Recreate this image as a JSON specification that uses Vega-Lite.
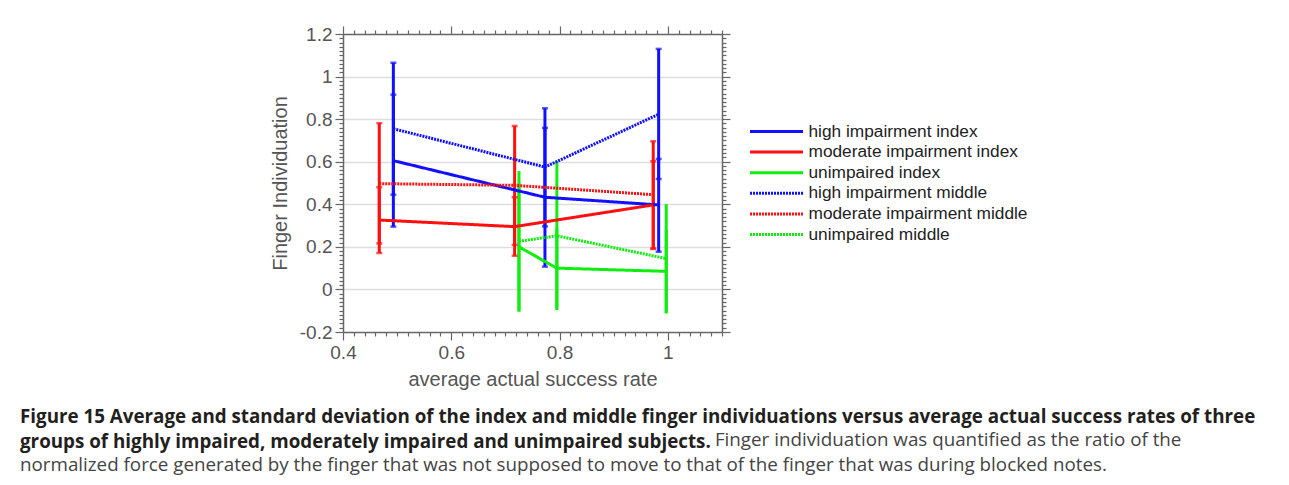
{
  "$schema": "https://vega.github.io/schema/vega-lite/v6.json",
  "autosize": {"type": "none"},
  "width": 379,
  "height": 298,
  "padding": {"left": 343, "top": 34, "right": 567, "bottom": 153},
  "background": "white",
  "config": {
    "view": {"stroke": null},
    "font": "Liberation Sans",
    "axis": {
      "labelFont": "Liberation Sans", "labelFontSize": 19, "labelColor": "#555555",
      "titleFont": "Liberation Sans", "titleFontSize": 20, "titleColor": "#555555", "titleFontWeight": "normal",
      "domainColor": "#666666", "domainWidth": 1.5, "tickColor": "#666666", "tickWidth": 1.2,
      "labelOverlap": false, "labelBound": false, "labelFlush": false
    },
    "legend": {
      "labelFont": "Liberation Sans", "labelFontSize": 17.3, "labelColor": "#222222", "labelLimit": 400
    }
  },
  "title": {
    "text": [
      "Figure 15 Average and standard deviation of the index and middle finger individuations versus average actual success rates of three",
      "groups of highly impaired, moderately impaired and unimpaired subjects."
    ],
    "subtitle": [
      "\u200b\u2003\u2003\u2003\u2003\u2003\u2003\u2003\u2003\u2003\u2003\u2003\u2003\u2003\u2003\u2003\u2003\u2003\u2003\u2003\u2003\u2003\u2003\u2003\u2003\u2003\u2003\u2003\u2003\u2003\u2003\u2003\u2003\u2003\u2003\u2003\u2003\u2003Finger individuation was quantified as the ratio of the",
      "normalized force generated by the finger that was not supposed to move to that of the finger that was during blocked notes."
    ],
    "orient": "bottom",
    "anchor": "start",
    "frame": "group",
    "dx": -323,
    "offset": 19,
    "font": "Open Sans",
    "fontSize": 18.8,
    "fontWeight": "bold",
    "color": "#231f20",
    "lineHeight": 25,
    "subtitleFont": "Open Sans",
    "subtitleFontSize": 18.8,
    "subtitleFontWeight": "normal",
    "subtitleColor": "#444444",
    "subtitleLineHeight": 25,
    "subtitlePadding": -21
  },
  "data": {
    "values": [
      {"series": "high impairment index", "group": "high", "x": 0.493, "mean": 0.605, "lo": 0.295, "hi": 0.915},
      {"series": "high impairment index", "group": "high", "x": 0.773, "mean": 0.433, "lo": 0.107, "hi": 0.759},
      {"series": "high impairment index", "group": "high", "x": 0.983, "mean": 0.397, "lo": 0.177, "hi": 0.613},
      {"series": "moderate impairment index", "group": "moderate", "x": 0.467, "mean": 0.326, "lo": 0.171, "hi": 0.48},
      {"series": "moderate impairment index", "group": "moderate", "x": 0.717, "mean": 0.295, "lo": 0.158, "hi": 0.433},
      {"series": "moderate impairment index", "group": "moderate", "x": 0.973, "mean": 0.397, "lo": 0.19, "hi": 0.602},
      {"series": "unimpaired index", "group": "unimpaired", "x": 0.725, "mean": 0.2, "lo": -0.1, "hi": 0.5},
      {"series": "unimpaired index", "group": "unimpaired", "x": 0.795, "mean": 0.1, "lo": -0.09, "hi": 0.29},
      {"series": "unimpaired index", "group": "unimpaired", "x": 0.997, "mean": 0.085, "lo": -0.11, "hi": 0.28},
      {"series": "high impairment middle", "group": "high", "x": 0.493, "mean": 0.755, "lo": 0.445, "hi": 1.065},
      {"series": "high impairment middle", "group": "high", "x": 0.773, "mean": 0.575, "lo": 0.296, "hi": 0.851},
      {"series": "high impairment middle", "group": "high", "x": 0.983, "mean": 0.823, "lo": 0.519, "hi": 1.13},
      {"series": "moderate impairment middle", "group": "moderate", "x": 0.467, "mean": 0.497, "lo": 0.216, "hi": 0.781},
      {"series": "moderate impairment middle", "group": "moderate", "x": 0.717, "mean": 0.489, "lo": 0.209, "hi": 0.768},
      {"series": "moderate impairment middle", "group": "moderate", "x": 0.973, "mean": 0.445, "lo": 0.193, "hi": 0.696},
      {"series": "unimpaired middle", "group": "unimpaired", "x": 0.725, "mean": 0.226, "lo": -0.105, "hi": 0.556},
      {"series": "unimpaired middle", "group": "unimpaired", "x": 0.795, "mean": 0.252, "lo": -0.097, "hi": 0.602},
      {"series": "unimpaired middle", "group": "unimpaired", "x": 0.997, "mean": 0.145, "lo": -0.113, "hi": 0.401}
    ]
  },
  "resolve": {"axis": {"x": "independent", "y": "independent"}},
  "layer": [
    {
      "mark": {"type": "rule", "strokeWidth": 3},
      "encoding": {
        "x": {
          "field": "x", "type": "quantitative",
          "scale": {"domain": [0.4, 1.1], "nice": false, "zero": false},
          "axis": {
            "orient": "bottom",
            "title": "average actual success rate",
            "titlePadding": 7,
            "values": [0.4,0.42,0.44,0.46,0.48,0.5,0.52,0.54,0.56,0.58,0.6,0.62,0.64,0.66,0.68,0.7,0.72,0.74,0.76,0.78,0.8,0.82,0.84,0.86,0.88,0.9,0.92,0.94,0.96,0.98,1,1.02,1.04,1.06,1.08,1.1],
            "labelExpr": "abs(datum.value*5 - round(datum.value*5)) < 0.001 && datum.value < 1.05 ? format(datum.value, '~g') : ''",
            "tickSize": {"condition": {"test": "abs(datum.value*5 - round(datum.value*5)) < 0.001", "value": 8}, "value": 4},
            "labelPadding": 3,
            "grid": false
          }
        },
        "y": {
          "field": "lo", "type": "quantitative",
          "scale": {"domain": [-0.2, 1.2], "nice": false, "zero": false},
          "axis": {
            "orient": "left",
            "title": "Finger Individuation",
            "titlePadding": 9,
            "values": [-0.2,-0.18,-0.16,-0.14,-0.12,-0.1,-0.08,-0.06,-0.04,-0.02,0,0.02,0.04,0.06,0.08,0.1,0.12,0.14,0.16,0.18,0.2,0.22,0.24,0.26,0.28,0.3,0.32,0.34,0.36,0.38,0.4,0.42,0.44,0.46,0.48,0.5,0.52,0.54,0.56,0.58,0.6,0.62,0.64,0.66,0.68,0.7,0.72,0.74,0.76,0.78,0.8,0.82,0.84,0.86,0.88,0.9,0.92,0.94,0.96,0.98,1,1.02,1.04,1.06,1.08,1.1,1.12,1.14,1.16,1.18,1.2],
            "labelExpr": "abs(datum.value*5 - round(datum.value*5)) < 0.001 ? replace(format(datum.value, '~g'), '\u2212', '-') : ''",
            "tickSize": {"condition": {"test": "abs(datum.value*5 - round(datum.value*5)) < 0.001", "value": 8}, "value": 4},
            "labelPadding": 3,
            "grid": true,
            "gridColor": "#dddddd",
            "gridWidth": 1.5,
            "gridOpacity": {"condition": {"test": "abs(datum.value*5 - round(datum.value*5)) < 0.001 && datum.value > -0.1 && datum.value < 1.1", "value": 1}, "value": 0}
          }
        },
        "y2": {"field": "hi"},
        "stroke": {
          "field": "group", "type": "nominal", "legend": null,
          "scale": {"domain": ["high", "moderate", "unimpaired"], "range": ["#1010ff", "#ff1010", "#10ee10"]}
        }
      }
    },
    {
      "transform": [{"filter": "datum.group != 'unimpaired'"}],
      "mark": {"type": "tick", "orient": "horizontal", "size": 6, "thickness": 2.5},
      "encoding": {
        "x": {
          "field": "x", "type": "quantitative",
          "axis": {
            "orient": "top", "title": null, "labels": false, "grid": false,
            "values": [0.4,0.42,0.44,0.46,0.48,0.5,0.52,0.54,0.56,0.58,0.6,0.62,0.64,0.66,0.68,0.7,0.72,0.74,0.76,0.78,0.8,0.82,0.84,0.86,0.88,0.9,0.92,0.94,0.96,0.98,1,1.02,1.04,1.06,1.08,1.1],
            "tickSize": {"condition": {"test": "abs(datum.value*5 - round(datum.value*5)) < 0.001", "value": 8}, "value": 4}
          }
        },
        "y": {
          "field": "lo", "type": "quantitative",
          "axis": {
            "orient": "right", "title": null, "labels": false, "grid": false,
            "values": [-0.2,-0.18,-0.16,-0.14,-0.12,-0.1,-0.08,-0.06,-0.04,-0.02,0,0.02,0.04,0.06,0.08,0.1,0.12,0.14,0.16,0.18,0.2,0.22,0.24,0.26,0.28,0.3,0.32,0.34,0.36,0.38,0.4,0.42,0.44,0.46,0.48,0.5,0.52,0.54,0.56,0.58,0.6,0.62,0.64,0.66,0.68,0.7,0.72,0.74,0.76,0.78,0.8,0.82,0.84,0.86,0.88,0.9,0.92,0.94,0.96,0.98,1,1.02,1.04,1.06,1.08,1.1,1.12,1.14,1.16,1.18,1.2],
            "tickSize": {"condition": {"test": "abs(datum.value*5 - round(datum.value*5)) < 0.001", "value": 8}, "value": 4}
          }
        },
        "fill": {
          "field": "group", "type": "nominal", "legend": null,
          "scale": {"domain": ["high", "moderate", "unimpaired"], "range": ["#1010ff", "#ff1010", "#10ee10"]}
        }
      }
    },
    {
      "transform": [{"filter": "datum.group != 'unimpaired'"}],
      "mark": {"type": "tick", "orient": "horizontal", "size": 6, "thickness": 2.5},
      "encoding": {
        "x": {"field": "x", "type": "quantitative", "axis": null},
        "y": {"field": "hi", "type": "quantitative", "axis": null},
        "fill": {"field": "group", "type": "nominal", "legend": null}
      }
    },
    {
      "mark": {"type": "line", "strokeWidth": 3},
      "encoding": {
        "x": {"field": "x", "type": "quantitative", "axis": null},
        "y": {"field": "mean", "type": "quantitative", "axis": null},
        "color": {
          "field": "series", "type": "nominal",
          "scale": {
            "domain": ["high impairment index", "moderate impairment index", "unimpaired index", "high impairment middle", "moderate impairment middle", "unimpaired middle"],
            "range": ["#1010ff", "#ff1010", "#10ee10", "#1010ff", "#ff1010", "#10ee10"]
          },
          "legend": {
            "title": null,
            "orient": "none",
            "legendX": 422,
            "legendY": 86,
            "symbolType": "M-2.65,0H2.65",
            "symbolSize": 400,
            "symbolStrokeWidth": 3,
            "labelOffset": 20.5,
            "rowPadding": 0.6
          }
        },
        "strokeDash": {
          "field": "series", "type": "nominal",
          "scale": {
            "domain": ["high impairment index", "moderate impairment index", "unimpaired index", "high impairment middle", "moderate impairment middle", "unimpaired middle"],
            "range": [[1, 0], [1, 0], [1, 0], [2, 1], [2, 1], [2, 1]]
          },
          "legend": {
            "title": null,
            "orient": "none",
            "legendX": 422,
            "legendY": 86,
            "symbolType": "M-2.65,0H2.65",
            "symbolSize": 400,
            "symbolStrokeWidth": 3,
            "labelOffset": 20.5,
            "rowPadding": 0.6
          }
        }
      }
    }
  ]
}
